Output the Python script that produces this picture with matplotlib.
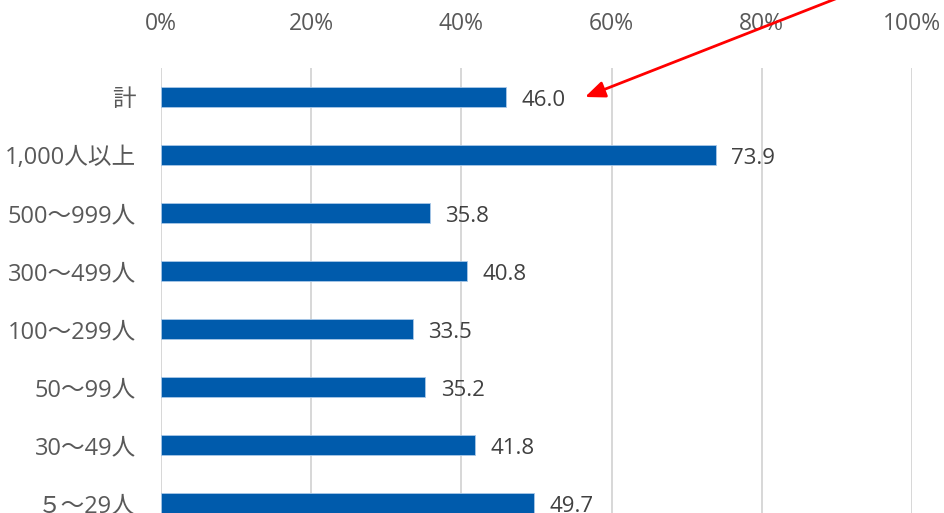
import matplotlib
matplotlib.use("Agg")
import matplotlib.pyplot as plt
import numpy as np

plt.rcParams['font.family'] = ['Open Sans', 'Noto Sans CJK JP', 'DejaVu Sans']

categories = ["計", "1,000人以上", "500～999人", "300～499人", "100～299人", "50～99人", "30～49人", "５～29人"]
values = [46.0, 73.9, 35.8, 40.8, 33.5, 35.2, 41.8, 49.7]
xticks = [0, 20, 40, 60, 80, 100]
xticklabels = ["0%", "20%", "40%", "60%", "80%", "100%"]

W, H = 944, 513
fig = plt.figure(figsize=(W / 100, H / 100), dpi=100)
ax = fig.add_axes([161 / W, 0, 751 / W, (H - 68) / H])

y = np.arange(len(categories))
ax.barh(y, values, height=0.345, color='#005bac', edgecolor='#a9c8e8', linewidth=0.6, zorder=3)

ax.set_xlim(0, 100)
ax.set_ylim(-0.5 + 445 / 58, -0.5)
ax.set_yticks(y)
ax.set_yticklabels(categories)
ax.set_xticks(xticks)
ax.set_xticklabels(xticklabels)
ax.xaxis.tick_top()
ax.tick_params(axis='x', length=0, pad=23, labelsize=16.5, colors='#595959')
ax.tick_params(axis='y', length=0, pad=18, labelsize=17, colors='#595959')
for s in ax.spines.values():
    s.set_visible(False)
ax.grid(axis='x', color='#d4d4d4', linewidth=1.3, zorder=0)
ax.set_axisbelow(True)

for yi, v in zip(y, values):
    ax.annotate(f"{v:.1f}", xy=(v, yi), xytext=(11, -2.5), textcoords='offset points',
                ha='left', va='center', fontsize=16, color='#404040', annotation_clip=False)

# red arrow pointing to total
tip_x = (585 - 161) / 7.51
start_x = (950 - 161) / 7.51
start_y = (-46 - 97) / 58
ax.annotate("", xy=(tip_x, 0), xytext=(start_x, start_y),
            arrowprops=dict(arrowstyle='-|>,head_length=1.2,head_width=0.5', color='#ff0000',
                            lw=2, shrinkA=0, shrinkB=0, mutation_scale=10),
            annotation_clip=False)

fig.savefig("out.png", dpi=100)
